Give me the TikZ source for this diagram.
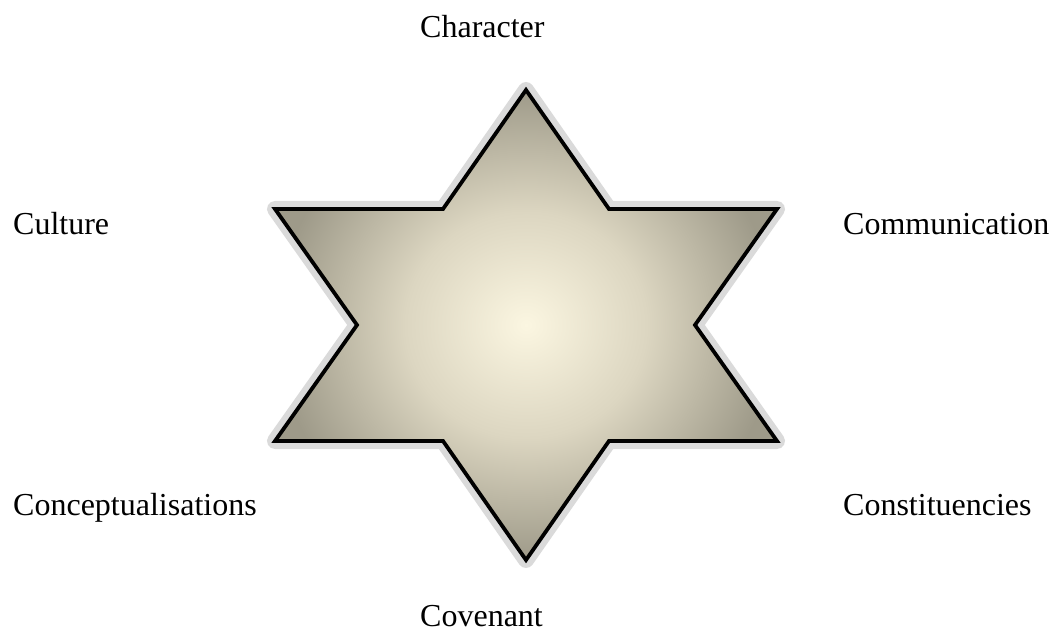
\documentclass[tikz,border=0pt]{standalone}
\usepackage{fontspec}
\setmainfont{Liberation Serif}
\usepackage{xcolor}
\usepackage{tikz}
\definecolor{halogrey}{HTML}{DADADA}
\definecolor{creamc}{HTML}{FBF6E1}
\definecolor{sandc}{HTML}{DCD6C1}
\definecolor{taupec}{HTML}{9E9A89}
\pgfdeclareradialshading{starglow}{\pgfpoint{0bp}{0bp}}{%
  color(0bp)=(creamc); color(12bp)=(sandc); color(25bp)=(taupec);
  color(50bp)=(taupec)}

\begin{document}
\begin{tikzpicture}[x=1pt,y=-1pt,
  lbl/.style={font=\fontsize{32}{38}\selectfont,anchor=base west,inner sep=0pt},
  halo/.style={draw=halogrey,line width=16pt,line join=round},
  rim/.style={draw=black,line width=3.8pt,line join=miter}
]
\useasboundingbox (0,0) rectangle (1053,636);
\def\starpath{(526,90) -- (609,209) -- (777,209) -- (695,325) -- (777,441)
  -- (609,441) -- (526,560) -- (443,441) -- (275,441) -- (357,325)
  -- (275,209) -- (443,209) -- cycle}

% star
\draw[halo] \starpath;
\shade[shading=starglow] \starpath;
\draw[rim] \starpath;

% labels
\node[lbl] (char) at (420,38)  {Character};
\node[lbl] (cult) at (13,235)  {Culture};
\node[lbl] (comm) at (843,235) {Communication};
\node[lbl] (conc) at (13,515)  {Conceptualisations};
\node[lbl] (cons) at (843,515) {Constituencies};
\node[lbl] (cove) at (420,626) {Covenant};
\end{tikzpicture}
\end{document}
